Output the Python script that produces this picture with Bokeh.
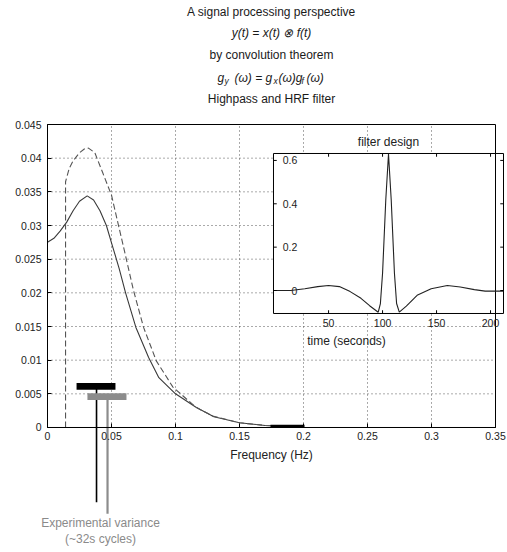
from bokeh.plotting import figure
from bokeh.models import Range1d, FixedTicker, CustomJSTickFormatter, Label
from bokeh.core.properties import value
from bokeh.embed import file_html
from bokeh.resources import INLINE

# ---------------- data ----------------
# solid curve
freq_solid = [0.0, 0.005, 0.01, 0.015, 0.02, 0.025, 0.031, 0.036, 0.041, 0.046, 0.051,
              0.056, 0.061, 0.069, 0.079, 0.087, 0.1, 0.116, 0.13, 0.15, 0.17, 0.2]
power_solid = [0.0275, 0.0281, 0.0292, 0.0305, 0.0322, 0.0336, 0.0344, 0.0338, 0.0322, 0.0300, 0.0268,
               0.0236, 0.0200, 0.0149, 0.0104, 0.0074, 0.0050, 0.0030, 0.0016, 0.0007, 0.0003, 0.0001]
# dashed curve
freq_dashed = [0.0141, 0.0141, 0.017, 0.020, 0.025, 0.029, 0.032, 0.037, 0.043, 0.050, 0.055,
               0.061, 0.067, 0.075, 0.085, 0.098, 0.116, 0.129, 0.15, 0.17, 0.2]
power_dashed = [0.0, 0.0365, 0.0385, 0.0396, 0.0408, 0.0414, 0.0415, 0.0408, 0.0379, 0.0345, 0.0304,
                0.0255, 0.0205, 0.0149, 0.0099, 0.0060, 0.0030, 0.0017, 0.0007, 0.0003, 0.0001]

# experimental-variance bars (black, gray) and their stems
bar_left = [0.0227, 0.0312]
bar_right = [0.0531, 0.0617]
bar_level = [0.0061, 0.0046]
stem_freq = [0.0383, 0.0469]
stem_end = [-0.0111, -0.0128]
bar_colors = ["#000000", "#8c8c8c"]
stem_widths = [1.6, 2.2]

# thick mark on the axis near 0.2 Hz
cut_left = [0.1742]
cut_right = [0.2008]

x_ticks = [0.0, 0.05, 0.1, 0.15, 0.2, 0.25, 0.3, 0.35]
y_ticks = [0.0, 0.005, 0.01, 0.015, 0.02, 0.025, 0.03, 0.035, 0.04, 0.045]

# inset: filter design
filter_t = [0, 15, 28, 40, 50, 60, 70, 80, 88, 96, 98, 100, 103, 105.5, 108, 111, 113, 115.5,
            122, 132, 145, 160, 172, 185, 195, 212]
filter_h = [0.0, 0.0, 0.008, 0.018, 0.023, 0.018, -0.005, -0.036, -0.07, -0.1, -0.06, 0.08, 0.42, 0.63,
            0.42, 0.08, -0.06, -0.1, -0.072, -0.022, 0.008, 0.023, 0.016, 0.004, -0.003, -0.003]
filter_xticks = [50, 100, 150, 200]
filter_yticks = [0, 0.2, 0.4, 0.6]

FONT = "Liberation Sans"
GRID = "#555555"

# ---------------- main figure (frame covers the canvas; axes bounded and fixed) ----------------
p = figure(width=507, height=552, x_range=Range1d(-0.036719, 0.359375), y_range=Range1d(-0.018565, 0.063417),
           output_backend="svg", toolbar_location=None,
           min_border_left=0, min_border_right=0, min_border_top=0, min_border_bottom=0)
p.outline_line_color = None
p.background_fill_color = "white"
p.border_fill_color = "white"
p.grid.visible = False

fmt = CustomJSTickFormatter(code="return String(Math.round(tick * 1000) / 1000);")
p.xaxis.ticker = FixedTicker(ticks=x_ticks)
p.yaxis.ticker = FixedTicker(ticks=y_ticks)
p.xaxis.formatter = fmt
p.yaxis.formatter = fmt
p.xaxis.fixed_location = y_ticks[0]
p.yaxis.fixed_location = x_ticks[0]
p.xaxis.bounds = (x_ticks[0], x_ticks[-1])
p.yaxis.bounds = (y_ticks[0], y_ticks[-1])
for ax in (p.xaxis[0], p.yaxis[0]):
    ax.major_tick_in = 4
    ax.major_tick_out = 0
    ax.minor_tick_in = 0
    ax.minor_tick_out = 0
    ax.axis_line_color = "black"
    ax.major_tick_line_color = "black"
    ax.major_label_text_font = FONT
    ax.major_label_text_font_size = "10.5px"
    ax.major_label_text_color = "#222222"
p.yaxis.major_label_standoff = 6
p.xaxis.major_label_standoff = 5
p.xaxis.axis_label = "Frequency (Hz)"
p.xaxis.axis_label_text_font = FONT
p.xaxis.axis_label_text_font_size = "12px"
p.xaxis.axis_label_text_font_style = "normal"
p.xaxis.axis_label_text_color = "#222222"
p.xaxis.axis_label_standoff = 4

# dotted grid inside the axes box
p.segment(x0=x_ticks[1:-1], x1=x_ticks[1:-1], y0=[y_ticks[0]] * (len(x_ticks) - 2),
          y1=[y_ticks[-1]] * (len(x_ticks) - 2), line_color=GRID, line_dash="1 3", line_width=1)
p.segment(x0=[x_ticks[0]] * (len(y_ticks) - 2), x1=[x_ticks[-1]] * (len(y_ticks) - 2),
          y0=y_ticks[1:-1], y1=y_ticks[1:-1], line_color=GRID, line_dash="1 3", line_width=1)

# inset background box
inset_left, inset_right = 0.17656, 0.35625
inset_bottom, inset_top = 0.016932, 0.040695
p.quad(left=[inset_left], right=[inset_right], bottom=[inset_bottom], top=[inset_top],
       fill_color="white", line_color="black", line_width=1)

# curves
p.line(freq_solid, power_solid, line_color="#3a3a3a", line_width=1.1)
p.line(freq_dashed, power_dashed, line_color="#555555", line_width=1.1, line_dash="6 3")

# bars and stems
p.segment(x0=stem_freq, x1=stem_freq, y0=bar_level, y1=stem_end, line_color=bar_colors,
          line_width=stem_widths)
p.quad(left=bar_left, right=bar_right,
       bottom=[v - 0.0005 for v in bar_level], top=[v + 0.0005 for v in bar_level],
       fill_color=bar_colors, line_color=None)
p.quad(left=cut_left, right=cut_right, bottom=[0.0], top=[0.0004], fill_color="black", line_color=None)

# axes box
p.quad(left=[x_ticks[0]], right=[x_ticks[-1]], bottom=[y_ticks[0]], top=[y_ticks[-1]],
       fill_color=None, line_color="black", line_width=1)

p.add_layout(Label(x=0.0414, y=-0.01411, text="Experimental variance", text_align="center",
                   text_baseline="middle", text_color="#8a8a8a", text_font=FONT, text_font_size="12px"))
p.add_layout(Label(x=0.0414, y=-0.01649, text="(~32s cycles)", text_align="center",
                   text_baseline="middle", text_color="#8a8a8a", text_font=FONT, text_font_size="12px"))

# ---------------- title lines ----------------
cx = 0.175
def title_label(text, y, style="normal", size="12px", x_offset=0, align="center"):
    p.add_layout(Label(x=cx, y=y, x_offset=x_offset, text=text, text_align=align, text_baseline="middle",
                       text_color="#1a1a1a", text_font=FONT, text_font_size=size, text_font_style=style))

title_label("A signal processing perspective", 0.06178)
title_label("y(t) = x(t) \u2297 f(t)", 0.05852, style="italic")
title_label("by convolution theorem", 0.05525)
y4 = 0.05198
ys = y4 - 0.0005
title_label("g", y4, style="italic", x_offset=-54, align="left")
title_label("y", ys, style="italic", size="8.5px", x_offset=-47, align="left")
title_label("(\u03c9) = g", y4, style="italic", x_offset=-37, align="left")
title_label("x", ys, style="italic", size="8.5px", x_offset=2, align="left")
title_label("(\u03c9)g", y4, style="italic", x_offset=7, align="left")
title_label("f", ys, style="italic", size="8.5px", x_offset=30, align="left")
title_label("(\u03c9)", y4, style="italic", x_offset=35, align="left")
title_label("Highpass and HRF filter", 0.04886)

# ---------------- inset ----------------
tx0, tx1 = -1, 212
hy0, hy1 = -0.106, 0.632
sub = p.subplot(x_source=Range1d(tx0, tx1), y_source=Range1d(hy0, hy1),
                x_target=Range1d(inset_left, inset_right), y_target=Range1d(inset_bottom, inset_top))
sub.line(filter_t, filter_h, line_color="#222222", line_width=1.1)

ny, nx = len(filter_yticks), len(filter_xticks)
sub.segment(x0=[tx0] * ny, x1=[tx0 + 3] * ny, y0=filter_yticks, y1=filter_yticks, line_color="black")
sub.segment(x0=[tx1] * ny, x1=[tx1 - 3] * ny, y0=filter_yticks, y1=filter_yticks, line_color="black")
sub.segment(x0=filter_xticks, x1=filter_xticks, y0=[hy0] * nx, y1=[hy0 + 0.015] * nx, line_color="black")
sub.segment(x0=filter_xticks, x1=filter_xticks, y0=[hy1] * nx, y1=[hy1 - 0.015] * nx, line_color="black")

sub.text(x=[21] * ny, y=filter_yticks, text=[f"{v:g}" for v in filter_yticks],
         text_align="right", text_baseline="middle", text_font=value(FONT),
         text_font_size="10.5px", text_color="#222222")
sub.text(x=filter_xticks, y=[-0.152] * nx, text=[str(v) for v in filter_xticks],
         text_align="center", text_baseline="middle", text_font=value(FONT),
         text_font_size="10.5px", text_color="#222222")
sub.text(x=[66.6], y=[-0.231], text=["time (seconds)"], text_align="center", text_baseline="middle",
         text_font=value(FONT), text_font_size="12px", text_color="#222222")
sub.text(x=[105.5], y=[0.683], text=["filter design"], text_align="center", text_baseline="middle",
         text_font=value(FONT), text_font_size="12px", text_color="#222222")

open("out.html", "w").write(file_html(p, INLINE))
